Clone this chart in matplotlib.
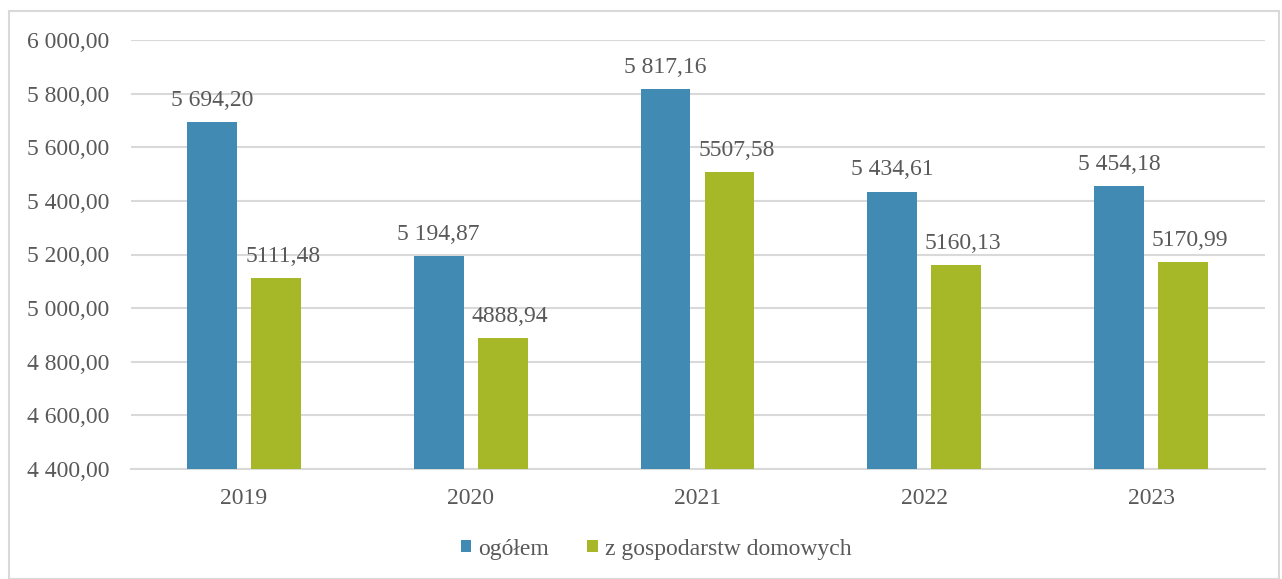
import numpy as np
import matplotlib.pyplot as plt
from matplotlib.patches import Rectangle

years = ["2019", "2020", "2021", "2022", "2023"]
ogolem = [5694.20, 5194.87, 5817.16, 5434.61, 5454.18]
gosp = [5111.48, 4888.94, 5507.58, 5160.13, 5170.99]
yticks = [4400, 4600, 4800, 5000, 5200, 5400, 5600, 5800, 6000]

blue = "#418AB3"
green = "#A6B727"
txt = "#595959"
grid = "#D9D9D9"

plt.rcParams['font.family'] = ['Liberation Serif', 'DejaVu Serif']

def pl(v, sep=" "):
    s = "{:,.2f}".format(v)
    return s.replace(",", "X").replace(".", ",").replace("X", sep)

fig = plt.figure(figsize=(12.82, 5.79), dpi=100)
ax = fig.add_axes([130.5/1282, 1-469/579, 1134/1282, 429/579])

x = np.arange(len(years))
w = 0.22
off = 0.141
b1 = ax.bar(x - off, np.array(ogolem) - 4400, w, bottom=4400, color=blue, label="ogółem", zorder=3)
b2 = ax.bar(x + off, np.array(gosp) - 4400, w, bottom=4400, color=green, label="z gospodarstw domowych", zorder=3)

for i in range(len(years)):
    ax.annotate(pl(ogolem[i]), (x[i] - off, ogolem[i]), xytext=(0, 8), textcoords="offset points",
                ha="center", va="bottom", fontsize=17, color=txt)
    ax.annotate(pl(gosp[i], ""), (x[i] + off + 0.03, gosp[i]), xytext=(0, 8), textcoords="offset points",
                ha="center", va="bottom", fontsize=17, color=txt)

ax.set_ylim(4400, 6000)
ax.set_xlim(-0.5, len(years) - 0.5)
ax.set_yticks(yticks)
ax.set_yticklabels([pl(v) for v in yticks])
ax.set_xticks(x)
ax.set_xticklabels(years)
ax.tick_params(axis="both", length=0, labelsize=17, labelcolor=txt)
ax.tick_params(axis="y", pad=15)
ax.tick_params(axis="x", pad=14)
ax.yaxis.grid(True, color=grid, linewidth=1.5, zorder=0)
ax.set_axisbelow(True)
for s in ["top", "right", "left"]:
    ax.spines[s].set_visible(False)
ax.spines["bottom"].set_color(grid)
ax.spines["bottom"].set_linewidth(1.5)

fig.legend(handles=[b1, b2], loc="center", bbox_to_anchor=(656/1282, 1-549/579), ncol=2,
           frameon=False, fontsize=17, labelcolor=txt, handlelength=0.45, handleheight=0.45,
           handletextpad=0.3, columnspacing=1.6)

fig.patches.append(Rectangle((9/1282, 0.5/579), 1270/1282, 568/579, transform=fig.transFigure,
                             fill=False, edgecolor=grid, linewidth=1.5))

fig.savefig("out.png", dpi=100)
